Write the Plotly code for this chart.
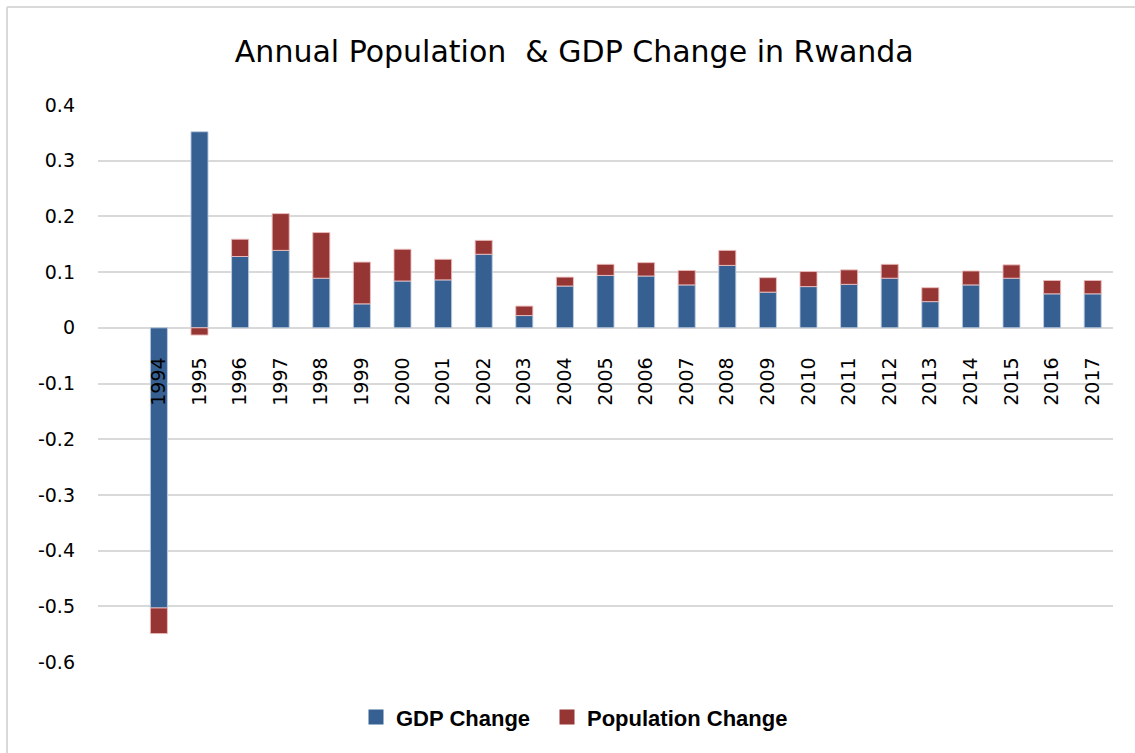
import plotly.graph_objects as go

years = [str(y) for y in range(1994, 2018)]
gdp_change = [-0.503, 0.352, 0.128, 0.139, 0.089, 0.043, 0.084, 0.086, 0.132, 0.022,
              0.075, 0.094, 0.093, 0.077, 0.112, 0.064, 0.074, 0.078, 0.089, 0.047,
              0.077, 0.089, 0.061, 0.061]
population_change = [-0.046, -0.013, 0.031, 0.066, 0.082, 0.075, 0.057, 0.037, 0.025, 0.017,
                     0.016, 0.020, 0.024, 0.026, 0.027, 0.026, 0.027, 0.026, 0.025, 0.025,
                     0.025, 0.024, 0.024, 0.024]
y_ticks = [0.4, 0.3, 0.2, 0.1, 0, -0.1, -0.2, -0.3, -0.4, -0.5, -0.6]

BLUE = "#376092"
RED = "#963634"
GRID = "#d9d9d9"

fig = go.Figure()
series = [("GDP Change", gdp_change, BLUE, "rgba(190,205,225,0.9)", "legend", 356),
          ("Population Change", population_change, RED, "rgba(235,190,190,0.9)", "legend2", 547)]
for name, values, color, edge, leg, px in series:
    fig.add_trace(go.Bar(
        x=years, y=values, name=name, showlegend=False, legendgroup=name,
        marker=dict(color=color, line=dict(color=edge, width=1)),
    ))
# square legend keys, one legend box per series
legend_font = dict(family="Liberation Sans", size=22, color="black", weight="bold")
legend_boxes = {}
for name, values, color, edge, leg, px in series:
    fig.add_trace(go.Scatter(
        x=[None], y=[None], mode="markers", name=name, legendgroup=name, legend=leg,
        marker=dict(symbol="square", size=15, color=color),
    ))
    legend_boxes[leg] = dict(orientation="h", x=(px - 98) / 1015, xanchor="left",
                             y=-0.099, yanchor="middle", font=legend_font, itemwidth=30)

fig.update_layout(
    width=1135, height=753,
    margin=dict(l=98, r=22, t=105, b=91),
    paper_bgcolor="white", plot_bgcolor="white",
    barmode="relative", bargap=0.58,
    font=dict(family="DejaVu Sans", color="black", size=19),
    title=dict(text="Annual Population  &amp; GDP Change in Rwanda",
               x=0.506, xanchor="center", y=0.931, yanchor="middle",
               font=dict(family="DejaVu Sans", size=30, color="black")),
    showlegend=True,
    **legend_boxes,
)

fig.update_yaxes(
    range=[-0.6, 0.4], tickvals=y_ticks, ticktext=[f"{v:g}" for v in y_ticks],
    showgrid=True, gridcolor=GRID, gridwidth=1.5,
    zeroline=True, zerolinecolor=GRID, zerolinewidth=1.5,
    showline=False, ticks="", tickfont=dict(size=19), ticklabelstandoff=22,
)
fig.update_xaxes(
    type="category", range=[-1.5, 23.5],
    anchor="free", position=0.6,
    showline=False, showgrid=False, zeroline=False,
    ticks="outside", ticklen=21, tickcolor="rgba(0,0,0,0)",
    tickangle=-90, tickfont=dict(size=19),
)

# light frame along the top and left edges of the chart
fig.add_shape(type="line", xref="paper", yref="paper",
              x0=(7 - 98) / 1015, x1=(1135 - 98) / 1015,
              y0=1 + (105 - 7) / 557, y1=1 + (105 - 7) / 557,
              line=dict(color=GRID, width=2))
fig.add_shape(type="line", xref="paper", yref="paper",
              x0=(7 - 98) / 1015, x1=(7 - 98) / 1015,
              y0=1 + (105 - 7) / 557, y1=-(753 - 662) / 557,
              line=dict(color=GRID, width=2))

fig.write_html("out.html")
